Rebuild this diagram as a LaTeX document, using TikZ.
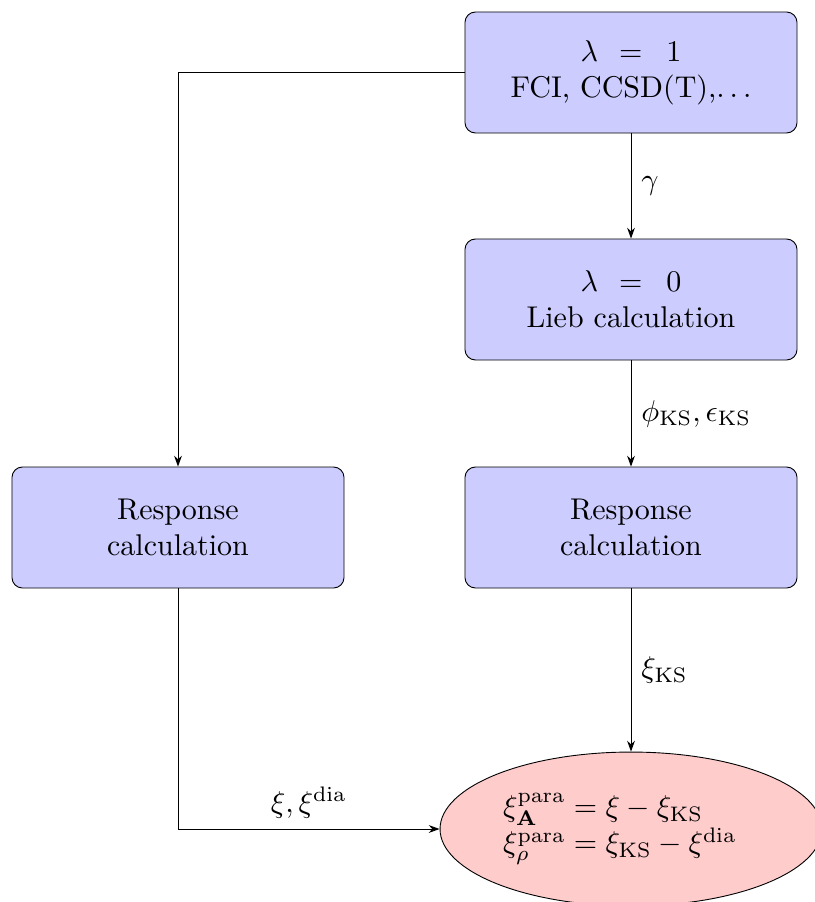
\documentclass[tikz,border=0pt]{standalone}
\usetikzlibrary{shapes.geometric,arrows.meta}
\begin{document}
\begin{tikzpicture}[x=0.3333pt,y=-0.3333pt, line width=0.3pt,
  box/.style={draw, rounded corners=3.5pt, fill=blue!20, minimum width=110.67pt, minimum height=40.33pt, align=center, inner sep=0pt},
  res/.style={draw, ellipse, fill=red!20, minimum width=127.3pt, minimum height=51.3pt, text width=85.3pt, align=left, inner sep=0pt},
  conn/.style={draw, -{Stealth[length=3.6pt,width=2.6pt]}},
  lbl/.style={font=\normalsize}]
\useasboundingbox (0,0) rectangle (814,902);
\node[box] (top) at (631,72.5) {$\lambda$\hspace{7pt}$=$\hspace{8pt}$1$\\FCI, CCSD(T),$\ldots$};
\node[box] (lieb) at (631,299.5) {$\lambda$\hspace{7pt}$=$\hspace{8pt}$0$\\Lieb calculation};
\node[box] (respL) at (178,527.5) {Response\\calculation};
\node[box] (respR) at (631,527.5) {Response\\calculation};
\node[res] (final) at (631,829) {$\xi^{\mathrm{para}}_{\mathbf{A}} = \xi - \xi_{\mathrm{KS}}$\\$\xi^{\mathrm{para}}_{\rho} = \xi_{\mathrm{KS}} - \xi^{\mathrm{dia}}$};
\draw[conn] (top) -- node[midway, right, lbl] {$\gamma$} (lieb);
\draw[conn] (lieb) -- node[midway, right, lbl] {$\phi_{\mathrm{KS}}, \epsilon_{\mathrm{KS}}$} (respR);
\draw[conn] (respR) -- node[midway, right, lbl] {$\xi_{\mathrm{KS}}$} (final);
\draw[conn] (top.west) -| (respL.north);
\draw[conn] (respL.south) |- node[pos=0.75, above, lbl] {$\xi, \xi^{\mathrm{dia}}$} (final.west);
\end{tikzpicture}
\end{document}
